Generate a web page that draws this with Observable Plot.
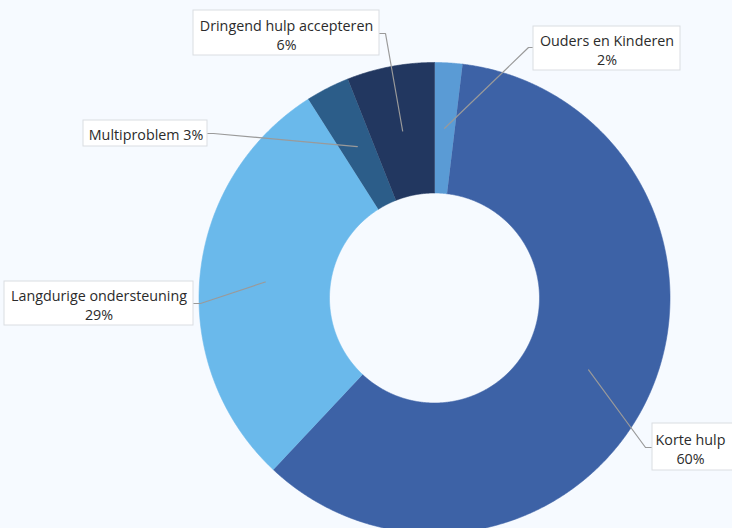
<!DOCTYPE html>
<html><head><meta charset="utf-8">
<script src="https://cdn.jsdelivr.net/npm/d3@7"></script>
<script src="https://cdn.jsdelivr.net/npm/@observablehq/plot@0.6"></script>
<style>html,body{margin:0;padding:0;background:#f6faff;overflow:hidden;}</style>
</head><body><div id="chart"></div>
<script>
// ---- data ----
const categories = ["Ouders en Kinderen", "Korte hulp", "Langdurige ondersteuning", "Multiproblem", "Dringend hulp accepteren"];
const shares = [1.9, 60.1, 29.0, 3.0, 6.0];
const percentLabels = ["2%", "60%", "29%", "3%", "6%"];
const sliceColors = ["#5a9bd5", "#3d62a6", "#6ab9eb", "#2c5d89", "#223760"];

// ---- layout (pixels) ----
const W = 732, H = 528;
const cx = 434, cy = 297.5, rOuter = 235.5, rInner = 105, rAnchor = 170;
// label boxes: [x1, x2, y1, y2], text centre, elbow, box edge, single line?
const labelLayout = [
  {box: [533, 680, 26, 70], tx: 606.5, ty: 49, elbow: [528, 47], edge: [533, 47], oneLine: false},
  {box: [652, 733, 423, 470], tx: 690, ty: 448, elbow: [645, 447], edge: [652, 447], oneLine: false},
  {box: [4, 193, 281, 325], tx: 98.5, ty: 304, elbow: [200, 303], edge: [193, 303], oneLine: false},
  {box: [83, 207, 120, 146], tx: 145.5, ty: 133.5, elbow: [213, 133], edge: [207, 133], oneLine: true},
  {box: [193, 379, 10, 55], tx: 286, ty: 34, elbow: [385, 33], edge: [379, 33], oneLine: false}
];

const data = categories.map((c, i) => ({name: c, value: shares[i], pct: percentLabels[i], color: sliceColors[i]}));
const arcs = d3.pie().sort(null).value(d => d.value).startAngle(0).endAngle(2 * Math.PI)(data);

const px = (r, a) => cx + r * Math.sin(a);
const py = (r, a) => cy - r * Math.cos(a);

// slice outlines
const slicePts = [];
arcs.forEach(a => {
  const n = Math.max(2, Math.ceil((a.endAngle - a.startAngle) / (Math.PI / 720)));
  for (let k = 0; k <= n; k++) {
    const t = a.startAngle + (a.endAngle - a.startAngle) * k / n;
    slicePts.push({name: a.data.name, x: px(rOuter, t), y: py(rOuter, t)});
  }
  for (let k = n; k >= 0; k--) {
    const t = a.startAngle + (a.endAngle - a.startAngle) * k / n;
    slicePts.push({name: a.data.name, x: px(rInner, t), y: py(rInner, t)});
  }
});

// leader lines
const leaderPts = [];
arcs.forEach((a, i) => {
  const mid = (a.startAngle + a.endAngle) / 2;
  const L = labelLayout[i];
  leaderPts.push({name: a.data.name, x: px(rAnchor, mid), y: py(rAnchor, mid)});
  leaderPts.push({name: a.data.name, x: L.elbow[0], y: L.elbow[1]});
  leaderPts.push({name: a.data.name, x: L.edge[0], y: L.edge[1]});
});

const labels = data.map((d, i) => ({
  ...d,
  x1: labelLayout[i].box[0], x2: labelLayout[i].box[1], y1: labelLayout[i].box[2], y2: labelLayout[i].box[3],
  tx: labelLayout[i].tx, ty: labelLayout[i].ty,
  text: labelLayout[i].oneLine ? `${d.name} ${d.pct}` : `${d.name}\n${d.pct}`
}));

const chart = Plot.plot({
  width: W, height: H,
  margin: 0,
  x: {domain: [0, W], range: [0, W], axis: null},
  y: {domain: [0, H], range: [0, H], axis: null},
  color: {domain: categories, range: sliceColors},
  style: {background: "#f6faff", fontFamily: "'Open Sans', sans-serif"},
  marks: [
    Plot.line(slicePts, {x: "x", y: "y", z: "name", fill: "name", stroke: "name", strokeWidth: 0.6, curve: "linear"}),
    Plot.line(leaderPts, {x: "x", y: "y", z: "name", stroke: "#9a9a9a", strokeWidth: 1.2}),
    Plot.rect(labels, {x1: "x1", x2: "x2", y1: "y1", y2: "y2", fill: "white", stroke: "#dadde2", strokeWidth: 1}),
    Plot.text(labels, {x: "tx", y: "ty", text: "text", fill: "#2b2b2b", fontSize: 14.3, lineHeight: 1.36, textAnchor: "middle"})
  ]
});
document.getElementById("chart").appendChild(chart);
</script>
</body></html>
